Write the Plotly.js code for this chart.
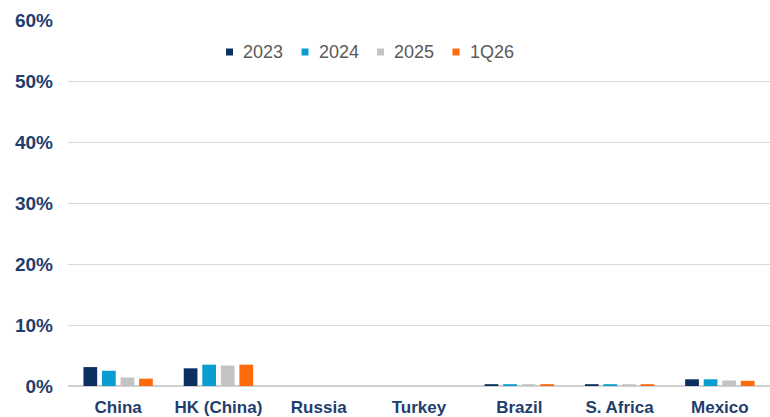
<!DOCTYPE html>
<html><head><meta charset="utf-8">
<script src="https://cdn.plot.ly/plotly-3.0.1.min.js"></script>
<style>body{margin:0;background:#fff}#c{width:770px;height:417px}</style>
</head><body><div id="c"></div>
<script>
const categories = ["China","HK (China)","Russia","Turkey","Brazil","S. Africa","Mexico"];
const seriesNames = ["2023","2024","2025","1Q26"];
const v2023 = [3.1, 2.9, 0, 0, 0.3, 0.3, 1.1];
const v2024 = [2.5, 3.5, 0, 0, 0.3, 0.3, 1.1];
const v2025 = [1.4, 3.35, 0, 0, 0.3, 0.3, 0.9];
const v1Q26 = [1.2, 3.5, 0, 0, 0.3, 0.3, 0.85];
const colors = ["#0B2F5E","#0A9DD1","#C3C3C3","#FF6A0D"];
const yTicks = [0,10,20,30,40,50,60];
const values = [v2023, v2024, v2025, v1Q26];
const traces = values.map((v,i)=>({
  type:"bar", name:seriesNames[i], x:categories, y:v,
  marker:{color:colors[i]}, hoverinfo:"skip", showlegend:false
}));
// legend drawn as shapes + annotations (paper coordinates)
const L = 68, W = 702, T = 20, H = 366;
const px = p => (p - L) / W, py = p => 1 - (p - T) / H;
const shapes = [], annotations = [];
seriesNames.forEach((n,i)=>{
  const x0 = 226 + i*75.5;
  shapes.push({type:"rect", xref:"paper", yref:"paper", x0:px(x0), x1:px(x0+7), y0:py(55.5), y1:py(48.5),
               fillcolor:colors[i], line:{width:0}});
  annotations.push({xref:"paper", yref:"paper", x:px(x0+15), y:py(52), xanchor:"left", yanchor:"middle",
               text:n, showarrow:false, font:{size:18, color:"#595959"}});
});
Plotly.newPlot("c", traces, {
  width:770, height:417,
  margin:{l:L,r:0,t:T,b:31},
  paper_bgcolor:"#fff", plot_bgcolor:"#fff",
  barmode:"group", bargap:0.26, bargroupgap:0.26,
  font:{family:"Liberation Sans, Arial, sans-serif"},
  xaxis:{tickfont:{size:17,color:"#1F3E6E",weight:"bold"}, showgrid:false, showline:false, ticks:"", ticklen:0, ticklabelstandoff:9},
  yaxis:{range:[0,60], tickvals:yTicks, ticktext:yTicks.map(t=>t+"%"), showgrid:true, gridcolor:"#D9D9D9", gridwidth:1,
         zeroline:true, zerolinecolor:"#D0D0D0", zerolinewidth:2,
         tickfont:{size:19,color:"#1F3E6E",weight:"bold"}, ticks:"", ticklabelstandoff:14, showline:false},
  shapes, annotations,
  showlegend:false
}, {staticPlot:true});
</script></body></html>
